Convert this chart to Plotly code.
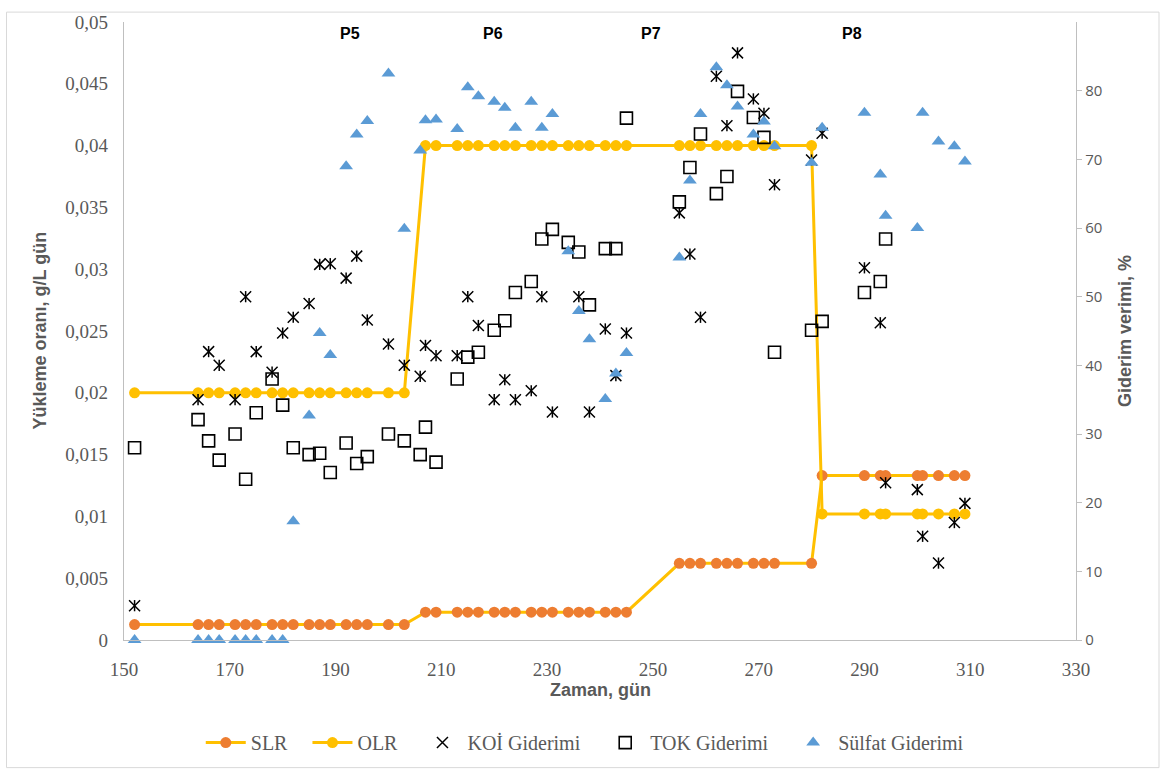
import plotly.graph_objects as go

# ---------------- data ----------------
days = [152, 164, 166, 168, 171, 173, 175, 178, 180, 182, 185, 187, 189, 192, 194, 196, 200, 203,
        207, 209, 213, 215, 217, 220, 222, 224, 227, 229, 231, 234, 236, 238, 241, 243, 245,
        255, 257, 259, 262, 264, 266, 269, 271, 273, 280,
        282, 290, 293, 294, 300, 301, 304, 307, 309]
slr = [0.00125] * 18 + [0.00225] * 17 + [0.0062] * 10 + [0.0133] * 9
olr = [0.02] * 18 + [0.04] * 17 + [0.04] * 10 + [0.0102] * 9

koi_x = [152, 164, 166, 168, 171, 173, 175, 178, 180, 182, 185, 187, 189, 192, 194, 196, 200, 203,
         206, 207, 209, 213, 215, 217, 220, 222, 224, 227, 229, 231, 236, 238, 241, 243, 245,
         255, 257, 259, 262, 264, 266, 269, 271, 273, 280, 282,
         290, 293, 294, 300, 301, 304, 307, 309]
koi_y = [5.0, 35.0, 42.0, 40.0, 35.0, 50.0, 42.0, 39.0, 44.7, 47.0, 49.0, 54.7, 54.8, 52.7, 55.9, 46.6, 43.1, 40.0,
         38.4, 42.9, 41.4, 41.4, 50.0, 45.8, 35.0, 37.9, 35.0, 36.3, 50.0, 33.2, 50.0, 33.2, 45.3, 38.5, 44.7,
         62.2, 56.2, 47.0, 82.1, 74.9, 85.5, 78.8, 76.7, 66.3, 69.9, 73.8,
         54.2, 46.2, 22.9, 21.9, 15.1, 11.2, 17.1, 19.9]

tok_x = [152, 164, 166, 168, 171, 173, 175, 178, 180, 182, 185, 187, 189, 192, 194, 196, 200, 203,
         206, 207, 209, 213, 215, 217, 220, 222, 224, 227, 229, 231, 234, 236, 238, 241, 243, 245,
         255, 257, 259, 262, 264, 266, 269, 271, 273, 280, 282, 290, 293, 294]
tok_y = [28.0, 32.1, 29.0, 26.2, 30.0, 23.4, 33.1, 38.0, 34.2, 28.0, 27.0, 27.2, 24.4, 28.7, 25.7, 26.7, 30.0, 29.0,
         27.0, 31.0, 25.9, 38.0, 41.2, 41.9, 45.1, 46.5, 50.6, 52.2, 58.4, 59.8, 57.9, 56.5, 48.8, 57.0, 57.0, 76.0,
         63.8, 68.8, 73.7, 65.0, 67.5, 79.9, 76.1, 73.2, 41.9, 45.1, 46.4, 50.6, 52.2, 58.4]

sul_x = [152, 164, 166, 168, 171, 173, 175, 178, 180, 182, 185, 187, 189, 192, 194, 196, 200, 203,
         206, 207, 209, 213, 215, 217, 220, 222, 224, 227, 229, 231, 234, 236, 238, 241, 243, 245,
         255, 257, 259, 262, 264, 266, 269, 271, 273, 280, 282,
         290, 293, 294, 300, 301, 304, 307, 309]
sul_y = [0, 0, 0, 0, 0, 0, 0, 0, 0, 17.3, 32.7, 44.7, 41.5, 69.0, 73.6, 75.6, 82.5, 59.9,
         71.3, 75.7, 75.8, 74.4, 80.5, 79.2, 78.4, 77.5, 74.6, 78.4, 74.6, 76.6, 56.6, 47.9, 43.8, 35.1, 38.8, 41.8,
         55.7, 66.9, 76.6, 83.4, 80.8, 77.7, 73.6, 75.5, 71.9, 69.5, 74.6,
         76.8, 67.8, 61.8, 60.0, 76.8, 72.6, 71.9, 69.7]

period_labels = ["P5", "P6", "P7", "P8"]
period_x = [192.8, 219.7, 249.6, 287.7]

# ---------------- figure ----------------
YELLOW = "#FFC000"
ORANGE = "#ED7D31"
BLUE = "#5B9BD5"
GRAY_TXT = "#595959"
AXIS = "#BFBFBF"
PAD = "\u00a0\u00a0\u00a0"

fig = go.Figure()

fig.add_trace(go.Scatter(
    x=days, y=slr, name="SLR" + PAD, mode="lines+markers",
    line=dict(color=YELLOW, width=3),
    marker=dict(color=ORANGE, size=11, symbol="circle"),
    cliponaxis=False))

fig.add_trace(go.Scatter(
    x=days, y=olr, name="OLR" + PAD, mode="lines+markers",
    line=dict(color=YELLOW, width=3),
    marker=dict(color=YELLOW, size=11, symbol="circle"),
    cliponaxis=False))

fig.add_trace(go.Scatter(
    x=koi_x, y=koi_y, name="KOİ Giderimi" + PAD, mode="markers", yaxis="y2",
    legendgroup="koi",
    marker=dict(symbol="x-thin-open", size=11, line=dict(color="black", width=1.5), color="black"),
    cliponaxis=False))
fig.add_trace(go.Scatter(
    x=koi_x, y=koi_y, name="KOİ Giderimi", mode="markers", yaxis="y2",
    legendgroup="koi", showlegend=False, hoverinfo="skip",
    marker=dict(symbol="line-ns", size=8, line=dict(color="black", width=1.5), color="black"),
    cliponaxis=False))

fig.add_trace(go.Scatter(
    x=tok_x, y=tok_y, name="TOK Giderimi" + PAD, mode="markers", yaxis="y2",
    marker=dict(symbol="square-open", size=12, line=dict(color="black", width=1.6), color="black"),
    cliponaxis=False))

fig.add_trace(go.Scatter(
    x=sul_x, y=sul_y, name="Sülfat Giderimi", mode="markers", yaxis="y2",
    marker=dict(symbol="triangle-up", size=12, color=BLUE),
    cliponaxis=False))

serif = "Liberation Serif, Times New Roman, serif"
sans_b = "Liberation Sans, Arial, sans-serif"

annotations = []
for lab, px in zip(period_labels, period_x):
    annotations.append(dict(x=px, y=0.982, xref="x", yref="paper", text="<b>%s</b>" % lab,
                            showarrow=False, font=dict(family=sans_b, size=16, color="black"),
                            xanchor="center", yanchor="middle"))
annotations += [
    dict(x=-0.0887, y=0.5, xref="paper", yref="paper", text="<b>Yükleme oranı, g/L gün</b>",
         textangle=-90, showarrow=False, font=dict(family=sans_b, size=18, color=GRAY_TXT),
         xanchor="center", yanchor="middle"),
    dict(x=1.0515, y=0.5, xref="paper", yref="paper", text="<b>Giderim verimi, %</b>",
         textangle=-90, showarrow=False, font=dict(family=sans_b, size=18, color=GRAY_TXT),
         xanchor="center", yanchor="middle"),
    dict(x=0.5, y=-0.0806, xref="paper", yref="paper", text="<b>Zaman, gün</b>",
         showarrow=False, font=dict(family=sans_b, size=18, color=GRAY_TXT),
         xanchor="center", yanchor="middle"),
]

fig.update_layout(
    width=1163, height=774,
    margin=dict(l=124, r=87, t=22, b=132),
    paper_bgcolor="white", plot_bgcolor="white",
    separators=",.",
    showlegend=True,
    legend=dict(orientation="h", x=0.484, y=-0.166, xanchor="center", yanchor="middle",
                font=dict(family=serif, size=20, color=GRAY_TXT), itemwidth=40,
                bgcolor="rgba(0,0,0,0)"),
    xaxis=dict(range=[150, 330], tick0=150, dtick=20, showgrid=False, zeroline=False,
               showline=True, linecolor=AXIS, linewidth=1.3, ticks="",
               tickfont=dict(family=serif, size=19, color=GRAY_TXT), ticklabelstandoff=12),
    yaxis=dict(range=[0, 0.05], dtick=0.005, showgrid=False, zeroline=False,
               showline=True, linecolor=AXIS, linewidth=1.3, ticks="",
               tickfont=dict(family=serif, size=19, color=GRAY_TXT), ticklabelstandoff=11),
    yaxis2=dict(range=[0, 90], overlaying="y", side="right", anchor="x",
                tickvals=[0, 10, 20, 30, 40, 50, 60, 70, 80], showgrid=False, zeroline=False,
                showline=True, linecolor=AXIS, linewidth=1.3, ticks="outside", ticklen=5,
                tickcolor=AXIS, tickfont=dict(family="Open Sans, sans-serif", size=15, color=GRAY_TXT)),
    annotations=annotations,
    shapes=[dict(type="rect", xref="paper", yref="paper", x0=-0.1234, x1=1.0872, y0=-0.2065, y1=1.016,
                 line=dict(color="#D9D9D9", width=1), fillcolor="rgba(0,0,0,0)", layer="below")],
)

fig.write_html("out.html")
